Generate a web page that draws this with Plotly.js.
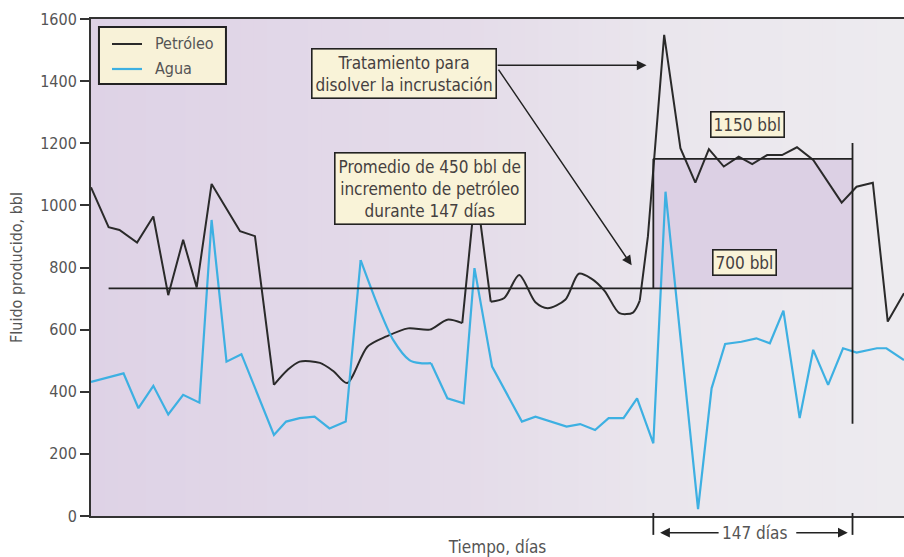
<!DOCTYPE html>
<html>
<head>
<meta charset="utf-8">
<script src="https://cdn.plot.ly/plotly-3.0.1.min.js"></script>
<style>html,body{margin:0;padding:0;background:#fff;}#chart{width:904px;height:557px;}</style>
</head>
<body>
<div id="chart"></div>
<script>
// ---- data ----
const oilDays = [0,13,21,34,46,57,68,78,89,110,121,135,145,154,169,179,189,204,218,234,250,263,274,284,295,305,316,328,337,350,360,369,379,390,400,405,411,423,435,446,456,467,478,488,499,510,521,533,554,565,577,588,600];
const oilBbl  = [1058,930,921,880,964,711,889,736,1069,917,901,422,470,497,493,466,428,545,578,604,600,632,621,1060,690,702,776,688,669,696,780,765,725,653,655,693,900,1549,1184,1073,1181,1125,1157,1133,1162,1162,1187,1146,1009,1060,1073,626,717];
const waterDays = [0,24,35,46,57,68,80,89,100,111,135,144,154,165,176,188,199,213,223,235,243,251,263,275,283,296,307,318,328,340,351,361,372,382,393,403,415,424,448,458,468,480,491,501,511,523,533,544,555,565,580,587,600];
const waterBbl  = [432,459,347,419,327,390,365,953,497,521,261,304,315,320,282,304,824,663,567,502,492,492,379,363,798,481,390,304,320,304,288,296,277,315,315,379,234,1044,22,411,554,561,572,556,661,315,535,422,540,526,540,540,502];
const seriesNames = ['Petróleo', 'Agua'];
const yTicks = [0,200,400,600,800,1000,1200,1400,1600];
// reference levels
const baseLevel = 733;      // "700 bbl" line
const treatedLevel = 1150;  // "1150 bbl" line
const treatStart = 415, treatEnd = 562; // 147 días
const lineStart = 13;

const FONT = '"Liberation Sans Narrow", "Arial Narrow", "DejaVu Sans Condensed", sans-serif';
const OIL_COLOR = '#2a2a2a', WATER_COLOR = '#3db0e2';
const TXT = '#555';

// oil line: straight and smoothed segments
const oilSegs = [[0,11,'linear'],[11,22,'spline'],[22,24,'linear'],[24,35,'spline'],[35,52,'linear']];
const waterSegs = [[0,16,'linear'],[16,21,'spline'],[21,52,'linear']];
const traces = [];
oilSegs.forEach((s,i)=>{
  traces.push({x: oilDays.slice(s[0],s[1]+1), y: oilBbl.slice(s[0],s[1]+1), type:'scatter', mode:'lines',
    name: seriesNames[0], legendgroup:'oil', showlegend:false,
    line:{color:OIL_COLOR, width:2, shape:s[2], smoothing:0.8}, hoverinfo:'skip'});
});
waterSegs.forEach((s,i)=>{
  traces.push({x: waterDays.slice(s[0],s[1]+1), y: waterBbl.slice(s[0],s[1]+1), type:'scatter', mode:'lines',
    name: seriesNames[1], legendgroup:'water', showlegend:false,
    line:{color:WATER_COLOR, width:2.2, shape:s[2], smoothing:0.8}, hoverinfo:'skip'});
});

// background gradient strips (purple -> light grey)
function bgColor(p){
  const stops = [[0,[222,210,230]],[0.45,[228,219,233]],[0.7,[234,230,237]],[1,[237,235,239]]];
  for(let i=0;i<stops.length-1;i++){
    const a=stops[i], b=stops[i+1];
    if(p>=a[0] && p<=b[0]){
      const t=(p-a[0])/(b[0]-a[0]);
      const c=a[1].map((v,k)=>Math.round(v+(b[1][k]-v)*t));
      return 'rgb('+c.join(',')+')';
    }
  }
  return 'rgb(237,235,239)';
}
const shapes = [];
const N = 60;
for(let i=0;i<N;i++){
  shapes.push({type:'rect', xref:'paper', yref:'paper', x0:i/N, x1:(i+1)/N+0.002, y0:0, y1:1,
    fillcolor:bgColor((i+0.5)/N), line:{width:0}, layer:'below'});
}
// treated area fill
shapes.push({type:'rect', xref:'x', yref:'y', x0:treatStart, x1:treatEnd, y0:baseLevel, y1:treatedLevel,
  fillcolor:'#dcd0e4', line:{width:0}, layer:'below'});
// box lines
const LW = 1.8, LC = '#222';
shapes.push({type:'line', xref:'x', yref:'y', x0:lineStart, x1:treatEnd, y0:baseLevel, y1:baseLevel, line:{color:LC,width:LW}});
shapes.push({type:'line', xref:'x', yref:'y', x0:treatStart, x1:treatEnd, y0:treatedLevel, y1:treatedLevel, line:{color:LC,width:LW}});
shapes.push({type:'line', xref:'x', yref:'y', x0:treatStart, x1:treatStart, y0:baseLevel, y1:treatedLevel, line:{color:LC,width:LW}});
shapes.push({type:'line', xref:'x', yref:'y', x0:treatEnd, x1:treatEnd, y0:297, y1:1201, line:{color:LC,width:LW}});
// bottom markers for 147 days
shapes.push({type:'line', xref:'x', yref:'paper', x0:treatStart, x1:treatStart, y0:0.006, y1:-0.038, line:{color:LC,width:LW}});
shapes.push({type:'line', xref:'x', yref:'paper', x0:treatEnd, x1:treatEnd, y0:0.006, y1:-0.038, line:{color:LC,width:LW}});
// legend box (drawn by hand to match the reference)
shapes.push({type:'rect', xref:'paper', yref:'paper', x0:0.0098, x1:0.166, y0:0.869, y1:0.984,
  fillcolor:'#f8f2d8', line:{color:'#222', width:2}});
shapes.push({type:'line', xref:'paper', yref:'paper', x0:0.0258, x1:0.0627, y0:0.9497, y1:0.9497, line:{color:OIL_COLOR, width:2}});
shapes.push({type:'line', xref:'paper', yref:'paper', x0:0.0258, x1:0.0627, y0:0.8994, y1:0.8994, line:{color:WATER_COLOR, width:2.2}});

const boxText = {family:FONT, size:17, color:'#454040'};
const annotations = [
  {xref:'paper', yref:'paper', x:0.0763, y:0.9497, xanchor:'left', yanchor:'middle', text:seriesNames[0], showarrow:false,
   font:{family:FONT, size:16, color:TXT}},
  {xref:'paper', yref:'paper', x:0.0763, y:0.8994, xanchor:'left', yanchor:'middle', text:seriesNames[1], showarrow:false,
   font:{family:FONT, size:16, color:TXT}},
  {xref:'paper', yref:'paper', x:0.3855, y:0.891, xanchor:'center', yanchor:'middle',
   text:'Tratamiento para<br>disolver la incrustación', showarrow:false, font:boxText,
   bgcolor:'#f9f3d8', bordercolor:'#222', borderwidth:1.6, borderpad:3},
  {xref:'paper', yref:'paper', x:0.4166, y:0.658, xanchor:'center', yanchor:'middle',
   text:'Promedio de 450 bbl de<br>incremento de petróleo<br>durante 147 días', showarrow:false, font:boxText,
   bgcolor:'#f9f3d8', bordercolor:'#222', borderwidth:1.6, borderpad:3},
  {xref:'paper', yref:'paper', x:0.808, y:0.788, xanchor:'center', yanchor:'middle',
   text:'1150 bbl', showarrow:false, font:boxText,
   bgcolor:'#f9f3d8', bordercolor:'#222', borderwidth:1.6, borderpad:2},
  {xref:'paper', yref:'paper', x:0.8034, y:0.5107, xanchor:'center', yanchor:'middle',
   text:'700 bbl', showarrow:false, font:boxText,
   bgcolor:'#f9f3d8', bordercolor:'#222', borderwidth:1.6, borderpad:2},
  // arrows from treatment box
  {xref:'x', yref:'y', x:410, y:1451, axref:'x', ayref:'y', ax:299, ay:1451, text:'', showarrow:true,
   arrowhead:2, arrowsize:1.3, arrowwidth:1.5, arrowcolor:'#222', standoff:0, startstandoff:0},
  {xref:'x', yref:'y', x:399, y:807, axref:'x', ayref:'y', ax:300, ay:1442, text:'', showarrow:true,
   arrowhead:2, arrowsize:1.3, arrowwidth:1.5, arrowcolor:'#222', standoff:0, startstandoff:0},
  // 147 días
  {xref:'x', yref:'paper', x:490, y:-0.0336, xanchor:'center', yanchor:'middle', text:'147 días', showarrow:false,
   font:{family:FONT, size:17, color:TXT}},
  {xref:'x', yref:'paper', x:420, y:-0.0336, ax:60, ay:0, text:'', showarrow:true,
   arrowhead:2, arrowsize:1.3, arrowwidth:1.5, arrowcolor:'#222', standoff:0},
  {xref:'x', yref:'paper', x:558.5, y:-0.0336, ax:-53, ay:0, text:'', showarrow:true,
   arrowhead:2, arrowsize:1.3, arrowwidth:1.5, arrowcolor:'#222', standoff:0}
];

const layout = {
  width:904, height:557,
  margin:{l:91, r:0, t:19, b:41},
  paper_bgcolor:'#ffffff', plot_bgcolor:'#e6dde9',
  font:{family:FONT, color:TXT},
  showlegend:false,
  xaxis:{range:[0,600], showticklabels:false, ticks:'', showgrid:false, zeroline:false,
    showline:true, linecolor:'#333', linewidth:2, mirror:true,
    title:{text:'Tiempo, días', font:{family:FONT, size:17, color:TXT}, standoff:24}},
  yaxis:{range:[0,1600], tickvals:yTicks, ticktext:yTicks.map(String), ticks:'outside', ticklen:9, tickwidth:2, tickcolor:'#333',
    showgrid:false, zeroline:false, showline:true, linecolor:'#333', linewidth:2,
    tickfont:{family:FONT, size:16, color:TXT},
    title:{text:'Fluido producido, bbl', font:{family:FONT, size:16, color:TXT}, standoff:14}},
  shapes:shapes,
  annotations:annotations
};
Plotly.newPlot('chart', traces, layout, {staticPlot:true, displayModeBar:false});
</script>
</body>
</html>
